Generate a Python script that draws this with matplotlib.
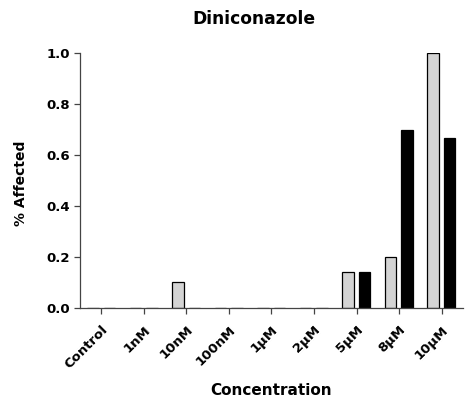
import matplotlib
matplotlib.use("Agg")
import matplotlib.pyplot as plt
import numpy as np

plt.rcParams['font.family'] = ['DejaVu Sans']
plt.rcParams['font.weight'] = 'bold'

labels = ['Control', '1nM', '10nM', '100nM', '1\u00b5M', '2\u00b5M', '5\u00b5M', '8\u00b5M', '10\u00b5M']
grey_vals = [0, 0, 0.1, 0, 0, 0, 0.1429, 0.2, 1.0]
black_vals = [0, 0, 0, 0, 0, 0, 0.1429, 0.7, 0.6667]

fig = plt.figure(figsize=(4.69, 4.09), dpi=100)
ax = fig.add_axes([0.1706, 0.247, 0.8164, 0.623])

x = np.arange(len(labels))
w = 0.27
ax.bar(x - 0.2, grey_vals, w, color='#d4d4d4', edgecolor='black', linewidth=0.9)
ax.bar(x + 0.19, black_vals, w, color='black', edgecolor='black', linewidth=0.9)

ax.set_xlim(-0.5, 8.5)
ax.set_ylim(0, 1.0)
ax.set_yticks([0.0, 0.2, 0.4, 0.6, 0.8, 1.0])
ax.set_yticklabels(['0.0', '0.2', '0.4', '0.6', '0.8', '1.0'], fontsize=9.5, fontweight='bold')
ax.set_xticks(x)
ax.set_xticklabels(labels, rotation=45, ha='right', rotation_mode='anchor', fontsize=9.5, fontweight='bold')

for s in ['top', 'right']:
    ax.spines[s].set_visible(False)
for s in ['left', 'bottom']:
    ax.spines[s].set_color('#444444')
    ax.spines[s].set_linewidth(0.9)
ax.tick_params(direction='out', length=4, width=0.9, color='#444444')
ax.tick_params(axis='x', pad=7)

ax.set_ylabel('% Affected', fontsize=10, fontweight='bold', va='center')
ax.yaxis.set_label_coords(-0.153, 0.49)
ax.set_xlabel('Concentration', fontsize=11, fontweight='bold', va='center')
ax.xaxis.set_label_coords(0.5, -0.325)
fig.suptitle('Diniconazole', fontsize=12.3, fontweight='bold', x=0.5405, y=0.975)

fig.savefig('out.png', dpi=100)
